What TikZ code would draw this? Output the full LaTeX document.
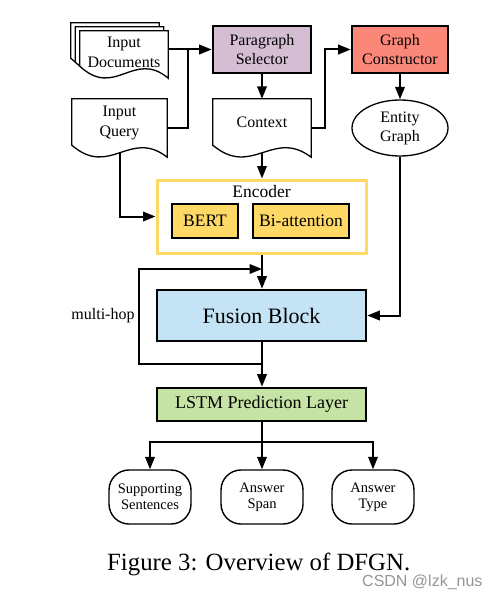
\documentclass[tikz,border=0pt]{standalone}
\usepackage{fontspec}
\setmainfont{Liberation Serif}
\newfontfamily\wmfont{Liberation Sans}
\usetikzlibrary{arrows.meta,calc,shapes.geometric}
\pgfdeclarelayer{back}
\pgfdeclarelayer{bg}
\pgfdeclarelayer{mid}
\pgfsetlayers{back,bg,mid,main}
\definecolor{parafill}{RGB}{213,190,212}
\definecolor{gcfill}{RGB}{250,135,120}
\definecolor{encyellow}{RGB}{255,217,102}
\definecolor{fusfill}{RGB}{196,228,245}
\definecolor{lstmfill}{RGB}{197,227,165}
\definecolor{wmgray}{RGB}{150,150,150}
\tikzset{
  box/.style={draw=black, line width=2.6pt, align=center, inner sep=0pt, font=\fontsize{16}{19}\selectfont},
  docbox/.style={inner sep=0pt, draw=none},
  doctext/.style={align=center, inner sep=0pt, font=\fontsize{16}{20}\selectfont},
  docline/.style={draw=black, fill=white, line width=1.3pt},
  ell/.style={ellipse, draw=black, line width=1.3pt, align=center, inner sep=0pt, font=\fontsize{16}{19}\selectfont},
  encbox/.style={draw=encyellow, line width=3pt, fill=white, inner sep=0pt},
  outbox/.style={draw=black, line width=1.4pt, rounded corners=20pt, minimum width=82, minimum height=54, align=center, inner sep=0pt, font=\fontsize{14.5}{16}\selectfont},
  conn/.style={line width=2pt},
  arrow/.style={line width=2pt, -{Triangle[length=12.5pt,width=9.5pt]}},
}
\newcommand\docpath[1]{\path[docline] (#1.north west) -- (#1.north east) -- (#1.south east) .. controls ($(#1.south west)!0.61!(#1.south east)+(0,-29)$) and ($(#1.south west)!0.4!(#1.south east)+(0,21)$) .. ($(#1.south west)+(0,-12)$) -- cycle;}
\begin{document}
\begin{tikzpicture}[x=1pt,y=-1pt]
\begin{pgfonlayer}{back}
\fill[white] (0,0) rectangle (501,599);
\end{pgfonlayer}
\useasboundingbox (0,0) rectangle (501,599);
% document-shaped nodes
\node[docbox, minimum width=88, minimum height=47] (docsC) at (115,46.5) {};
\node[docbox, minimum width=88, minimum height=47] (docsB) at (119.5,50.5) {};
\node[docbox, minimum width=88, minimum height=47] (docs) at (124,54.5) {};
\node[doctext] (docsT) at ([yshift=2.5pt]docs.center) {Input\\Documents};
\node[docbox, minimum width=95, minimum height=58] (query) at (119.5,128) {};
\node[doctext] (queryT) at ([yshift=5.5pt]query.center) {Input\\Query};
\node[docbox, minimum width=98, minimum height=58] (ctx) at (262,128) {};
\node[doctext] (ctxT) at ([yshift=6pt]ctx.center) {Context};
\begin{pgfonlayer}{mid}
\docpath{docsC}
\docpath{docsB}
\docpath{docs}
\docpath{query}
\docpath{ctx}
\end{pgfonlayer}
% boxes
\node[box, fill=parafill, minimum width=98, minimum height=47] (para) at (262,49.5) {Paragraph\\Selector};
\node[box, fill=gcfill, minimum width=96, minimum height=47] (gc) at (400,49.5) {Graph\\Constructor};
\node[ell, minimum width=96, minimum height=56] (eg) at (400,128) {Entity\\Graph};
\node[encbox, minimum width=209, minimum height=73] (enc) at (261.5,216.5) {};
\node[inner sep=0pt, font=\fontsize{17.5}{20}\selectfont] (encT) at (261.5,192) {Encoder};
\node[box, fill=encyellow, minimum width=66, minimum height=34, font=\fontsize{17.5}{20}\selectfont] (bert) at (205,221) {BERT};
\node[box, fill=encyellow, minimum width=96, minimum height=34, font=\fontsize{17.5}{20}\selectfont] (biatt) at (301,221) {Bi-attention};
\node[box, fill=fusfill, minimum width=209, minimum height=51, font=\fontsize{22}{26}\selectfont] (fus) at (261.5,315.5) {Fusion Block};
\node[inner sep=0pt, font=\fontsize{16}{19}\selectfont] (hop) at (103,316) {multi-hop};
\node[box, fill=lstmfill, minimum width=209, minimum height=33, font=\fontsize{18}{21}\selectfont] (lstm) at (261.5,404.5) {LSTM Prediction Layer};
\node[outbox] (ss) at (150,497) {Supporting\\Sentences};
\node[outbox] (aspan) at (262,497) {Answer\\Span};
\node[outbox] (atype) at (373,497) {Answer\\Type};
\node[anchor=base west, inner sep=0pt, font=\fontsize{24.8}{28}\selectfont] (cap) at (107,570) {Figure 3: Overview of DFGN.};
\node[anchor=base west, inner sep=0pt, font=\wmfont\fontsize{16}{18}\selectfont, text=wmgray] (wm) at (362,586) {CSDN @lzk\_nus};
% junction coordinates
\coordinate (j1) at (188,49.5);
\coordinate (hopB) at (262,364);
\coordinate (hopT) at (262,269);
\coordinate (split) at (262,442);
% connectors
\begin{pgfonlayer}{bg}
\draw[arrow] (docs.east |- para.west) -- (para.west);
\draw[conn] (query.east) -| (j1);
\draw[arrow] (para.south) -- (ctx.north);
\draw[arrow] (ctx.east) -- ++(14,0) |- (gc.west);
\draw[arrow] (gc.south) -- (eg.north);
\draw[arrow] (ctx.center) -- (enc.north -| ctx.center);
\draw[arrow] (query.center) |- (enc.west);
\draw[arrow] (eg.south) |- (fus.east);
\draw[arrow] (enc.south -| hopT) -- (fus.north -| hopT);
\draw[conn] (fus.south -| hopB) -- (hopB);
\draw[arrow] (hopB) -- ++(-123,0) |- (hopT);
\draw[arrow] (hopB) -- (lstm.north -| hopB);
\draw[conn] (lstm.south -| split) -- (split);
\draw[arrow] (split) -| (ss.north);
\draw[arrow] (split) -| (atype.north);
\draw[arrow] (split) -- (aspan.north);
\end{pgfonlayer}
\end{tikzpicture}
\end{document}
